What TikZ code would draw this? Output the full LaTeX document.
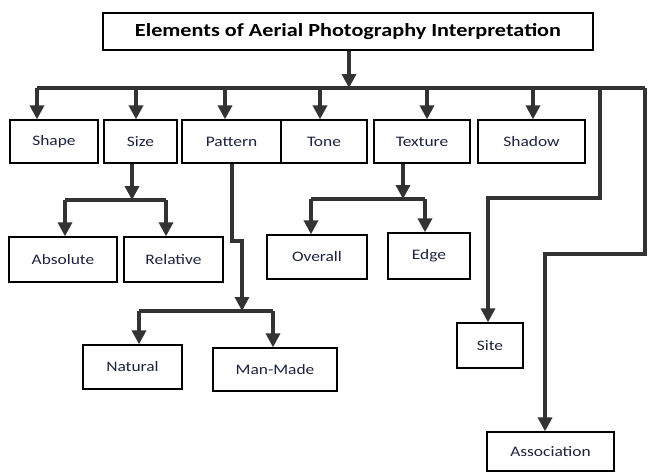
\documentclass[tikz,border=0pt]{standalone}
\usepackage{fontspec}
\setmainfont{Carlito}[FakeStretch=1.2]
\usetikzlibrary{arrows.meta}
\definecolor{linec}{HTML}{333333}
\definecolor{txtc}{HTML}{1E2240}
\tikzset{
  box/.style={draw=black, line width=1.3pt, fill=white, inner sep=0pt, font=\fontsize{14.5}{16}\selectfont, text=txtc},
  conn/.style={draw=linec, line width=3.3pt, line join=miter},
  arr/.style={conn, -{Triangle[length=14pt,width=14pt]}},
}
\newcommand{\bx}[6]{\node[box, minimum width=#4pt-#3pt, minimum height=#6pt-#5pt] (#1) at ({(#3+#4)/2},{(#5+#6)/2}) {#2};}
\begin{document}
\begin{tikzpicture}[x=1pt,y=-1pt]
\useasboundingbox (0,0) rectangle (648,472);
% boxes
\node[box, minimum width=490pt, minimum height=37pt, font=\bfseries\fontsize{18.5}{20}\selectfont, text=black] (title) at (348,31.5) {Elements of Aerial Photography Interpretation};
\bx{shape}{Shape}{10}{98}{120}{163}
\bx{size}{Size}{104}{177}{120}{163}
\bx{pattern}{Pattern}{182}{281}{120}{163}
\bx{tone}{Tone}{281}{367}{120}{163}
\bx{texture}{Texture}{374}{470}{120}{163}
\bx{shadow}{Shadow}{478}{585}{120}{163}
\bx{absolute}{Absolute}{9}{117}{237}{282}
\bx{relative}{Relative}{124}{223}{237}{282}
\bx{overall}{Overall}{267}{367}{235}{279}
\bx{edge}{Edge}{388}{470}{233}{279}
\bx{natural}{Natural}{83}{182}{345}{389}
\bx{manmade}{Man-Made}{213}{337}{348}{391}
\bx{site}{Site}{457}{523}{323}{368}
\bx{assoc}{Association}{487}{614}{432}{471}
% coordinates
\coordinate (busL) at (37,88);
\coordinate (busR) at (645,88);
\coordinate (busT) at (349,88);
\coordinate (bSize) at (136,88);
\coordinate (bPat) at (225,88);
\coordinate (bTone) at (320,88);
\coordinate (bTex) at (427,88);
\coordinate (bShad) at (533,88);
\coordinate (bSite) at (600,88);
\coordinate (sizeD) at (132,200);
\coordinate (sizeL) at (65,200);
\coordinate (sizeR) at (166,200);
\coordinate (patA) at (232,241);
\coordinate (patB) at (242,241);
\coordinate (patD) at (242,311);
\coordinate (patL) at (139,311);
\coordinate (patR) at (273,311);
\coordinate (texD) at (403,199);
\coordinate (texL) at (311,199);
\coordinate (texR) at (425,199);
\coordinate (siteA) at (600,198);
\coordinate (siteB) at (488,198);
\coordinate (asA) at (645,254);
\coordinate (asB) at (545,254);
% connectors
\draw[arr] (title.south -| busT) -- (busT);
\draw[conn] (busL) -- (busR);
\draw[arr] (busL) -- (busL |- shape.north);
\draw[arr] (bSize) -- (bSize |- size.north);
\draw[arr] (bPat) -- (bPat |- pattern.north);
\draw[arr] (bTone) -- (bTone |- tone.north);
\draw[arr] (bTex) -- (bTex |- texture.north);
\draw[arr] (bShad) -- (bShad |- shadow.north);
% size
\draw[arr] (size.south -| sizeD) -- (sizeD);
\draw[conn] (sizeL) -- (sizeR);
\draw[arr] (sizeL) -- (sizeL |- absolute.north);
\draw[arr] (sizeR) -- (sizeR |- relative.north);
% pattern
\draw[arr] (pattern.south -| patA) -- (patA) -- (patB) -- (patD);
\draw[conn] (patL) -- (patR);
\draw[arr] (patL) -- (patL |- natural.north);
\draw[arr] (patR) -- (patR |- manmade.north);
% texture
\draw[arr] (texture.south -| texD) -- (texD);
\draw[conn] (texL) -- (texR);
\draw[arr] (texL) -- (texL |- overall.north);
\draw[arr] (texR) -- (texR |- edge.north);
% site and association
\draw[arr] (bSite) -- (siteA) -- (siteB) -- (siteB |- site.north);
\draw[arr] (busR) -- (asA) -- (asB) -- (asB |- assoc.north);
\end{tikzpicture}
\end{document}
